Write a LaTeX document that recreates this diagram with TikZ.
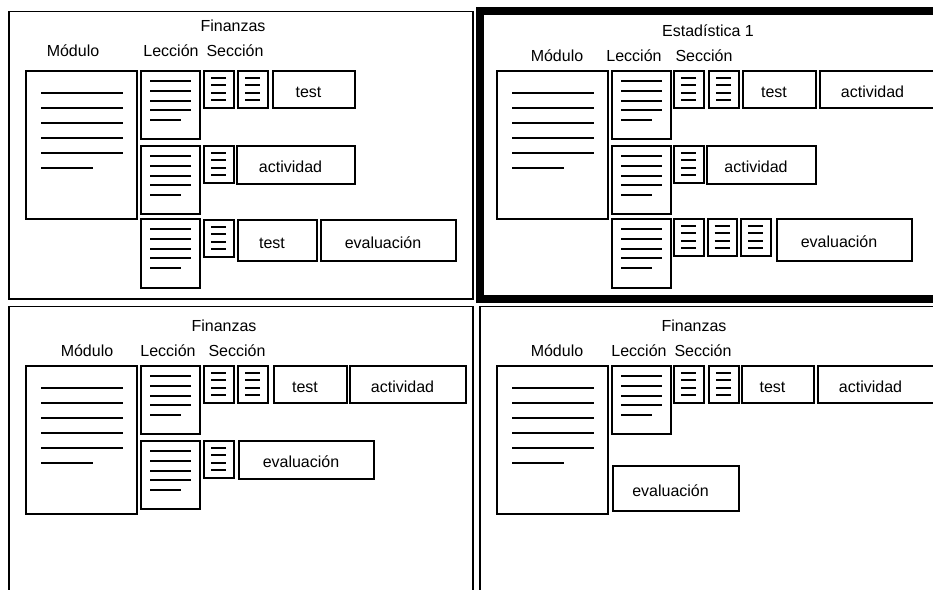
\documentclass[tikz,border=0pt]{standalone}
\usepackage{fontspec}
\setmainfont{Liberation Sans}
\usepackage{tikz}

% icons: top-left corner in pixels
\newcommand{\moduleicon}[2]{%
  \draw[iconbox] (#1,#2) rectangle ++(111,148);
  \foreach \k in {0,...,4} \draw[txtline] (#1+15,#2+22+15*\k) -- ++(82,0);
  \draw[txtline] (#1+15,#2+97) -- ++(52,0);
}
\newcommand{\lessonicon}[3][68]{%
  \draw[iconbox] (#2,#3) rectangle ++(59,#1);
  \foreach \k in {0,...,3} \draw[txtline] (#2+9,#3+10+9.75*\k) -- ++(41,0);
  \draw[txtline] (#2+9,#3+49) -- ++(31,0);
}
\newcommand{\sectionicon}[2]{%
  \draw[iconbox] (#1,#2) rectangle ++(29.5,36.5);
  \foreach \k in {0,...,3} \draw[txtline] (#1+7,#2+7+7.3*\k) -- ++(15,0);
}

\begin{document}
\begin{tikzpicture}[x=1pt, y=-1pt,
    every node/.style={font=\fontsize{16pt}{19pt}\selectfont},
    panel/.style={line width=1.5pt},
    current/.style={line width=8pt},
    iconbox/.style={line width=2pt},
    txtline/.style={line width=2pt},
    lbl/.style={anchor=base, inner sep=0pt},
    txtbox/.style={draw, line width=2pt, text height=15pt, text depth=0pt,
      execute at end node={\hspace*{11pt}}}]
        \clip (0,0) rectangle (933,589);
        \fill[white] (0,0) rectangle (933,589);

        % top left: Finanzas
        \draw[panel] (9,11.5) rectangle (473,299);
        \node[lbl] (tlTitle) at (233,31) {Finanzas};
        \node[lbl] (tlMod) at (73,56) {Módulo};
        \node[lbl] (tlLec) at (171,56) {Lección};
        \node[lbl] (tlSec) at (235,56) {Sección};
        \moduleicon{26}{71}
        \lessonicon{141}{71}
        \lessonicon{141}{146}
        \lessonicon[69]{141}{219}
        \sectionicon{204}{71}
        \sectionicon{238}{71}
        \sectionicon{204}{146}
        \sectionicon{204}{220}
        \node[txtbox, minimum width=82pt, minimum height=37pt] (tlTestA) at (314,89.5) {test};
        \node[txtbox, minimum width=118pt, minimum height=38pt] (tlActB) at (296,165) {actividad};
        \node[txtbox, minimum width=79pt, minimum height=41pt] (tlTestC) at (277.5,240.5) {test};
        \node[txtbox, minimum width=135pt, minimum height=41pt] (tlEvalC) at (388.5,240.5) {evaluación};

        % top right: Estadistica 1 (selected)
        \draw[current] (479.5,11.3) rectangle (945,299);
        \node[lbl] (trTitle) at (708,36.5) {Estadística 1};
        \node[lbl] (trMod) at (557,61.5) {Módulo};
        \node[lbl] (trLec) at (634,61.5) {Lección};
        \node[lbl] (trSec) at (704,61.5) {Sección};
        \moduleicon{497}{71}
        \lessonicon{612}{71}
        \lessonicon{612}{146}
        \lessonicon[69]{612}{219}
        \sectionicon{674}{71}
        \sectionicon{709}{71}
        \sectionicon{674}{146}
        \sectionicon{674}{219}
        \sectionicon{707.5}{219}
        \sectionicon{741}{219}
        \node[txtbox, minimum width=73pt, minimum height=37pt] (trTestA) at (779.5,89.5) {test};
        \node[txtbox, minimum width=116pt, minimum height=37pt] (trActA) at (878,89.5) {actividad};
        \node[txtbox, minimum width=109pt, minimum height=38pt] (trActB) at (761.5,165) {actividad};
        \node[txtbox, minimum width=135pt, minimum height=42pt] (trEvalC) at (844.5,240) {evaluación};

        % bottom left: Finanzas
        \draw[panel] (9,306.5) rectangle (473,600);
        \node[lbl] (blTitle) at (224,331) {Finanzas};
        \node[lbl] (blMod) at (87,356) {Módulo};
        \node[lbl] (blLec) at (168,356) {Lección};
        \node[lbl] (blSec) at (237,356) {Sección};
        \moduleicon{26}{366}
        \lessonicon{141}{366}
        \lessonicon{141}{441}
        \sectionicon{204}{366}
        \sectionicon{238}{366}
        \sectionicon{204}{441}
        \node[txtbox, minimum width=73pt, minimum height=37pt] (blTestA) at (310.5,384.5) {test};
        \node[txtbox, minimum width=116pt, minimum height=37pt] (blActA) at (408,384.5) {actividad};
        \node[txtbox, minimum width=135pt, minimum height=38pt] (blEvalB) at (306.5,460) {evaluación};

        % bottom right: Finanzas
        \draw[panel] (480,306.5) rectangle (945,600);
        \node[lbl] (brTitle) at (694,331) {Finanzas};
        \node[lbl] (brMod) at (557,356) {Módulo};
        \node[lbl] (brLec) at (639,356) {Lección};
        \node[lbl] (brSec) at (703,356) {Sección};
        \moduleicon{497}{366}
        \lessonicon{612}{366}
        \sectionicon{674}{366}
        \sectionicon{709}{366}
        \node[txtbox, minimum width=72pt, minimum height=37pt] (brTestA) at (778,384.5) {test};
        \node[txtbox, minimum width=116pt, minimum height=37pt] (brActA) at (876,384.5) {actividad};
        \node[txtbox, minimum width=126pt, minimum height=45pt] (brEvalB) at (676,488.5) {evaluación};
\end{tikzpicture}
\end{document}
